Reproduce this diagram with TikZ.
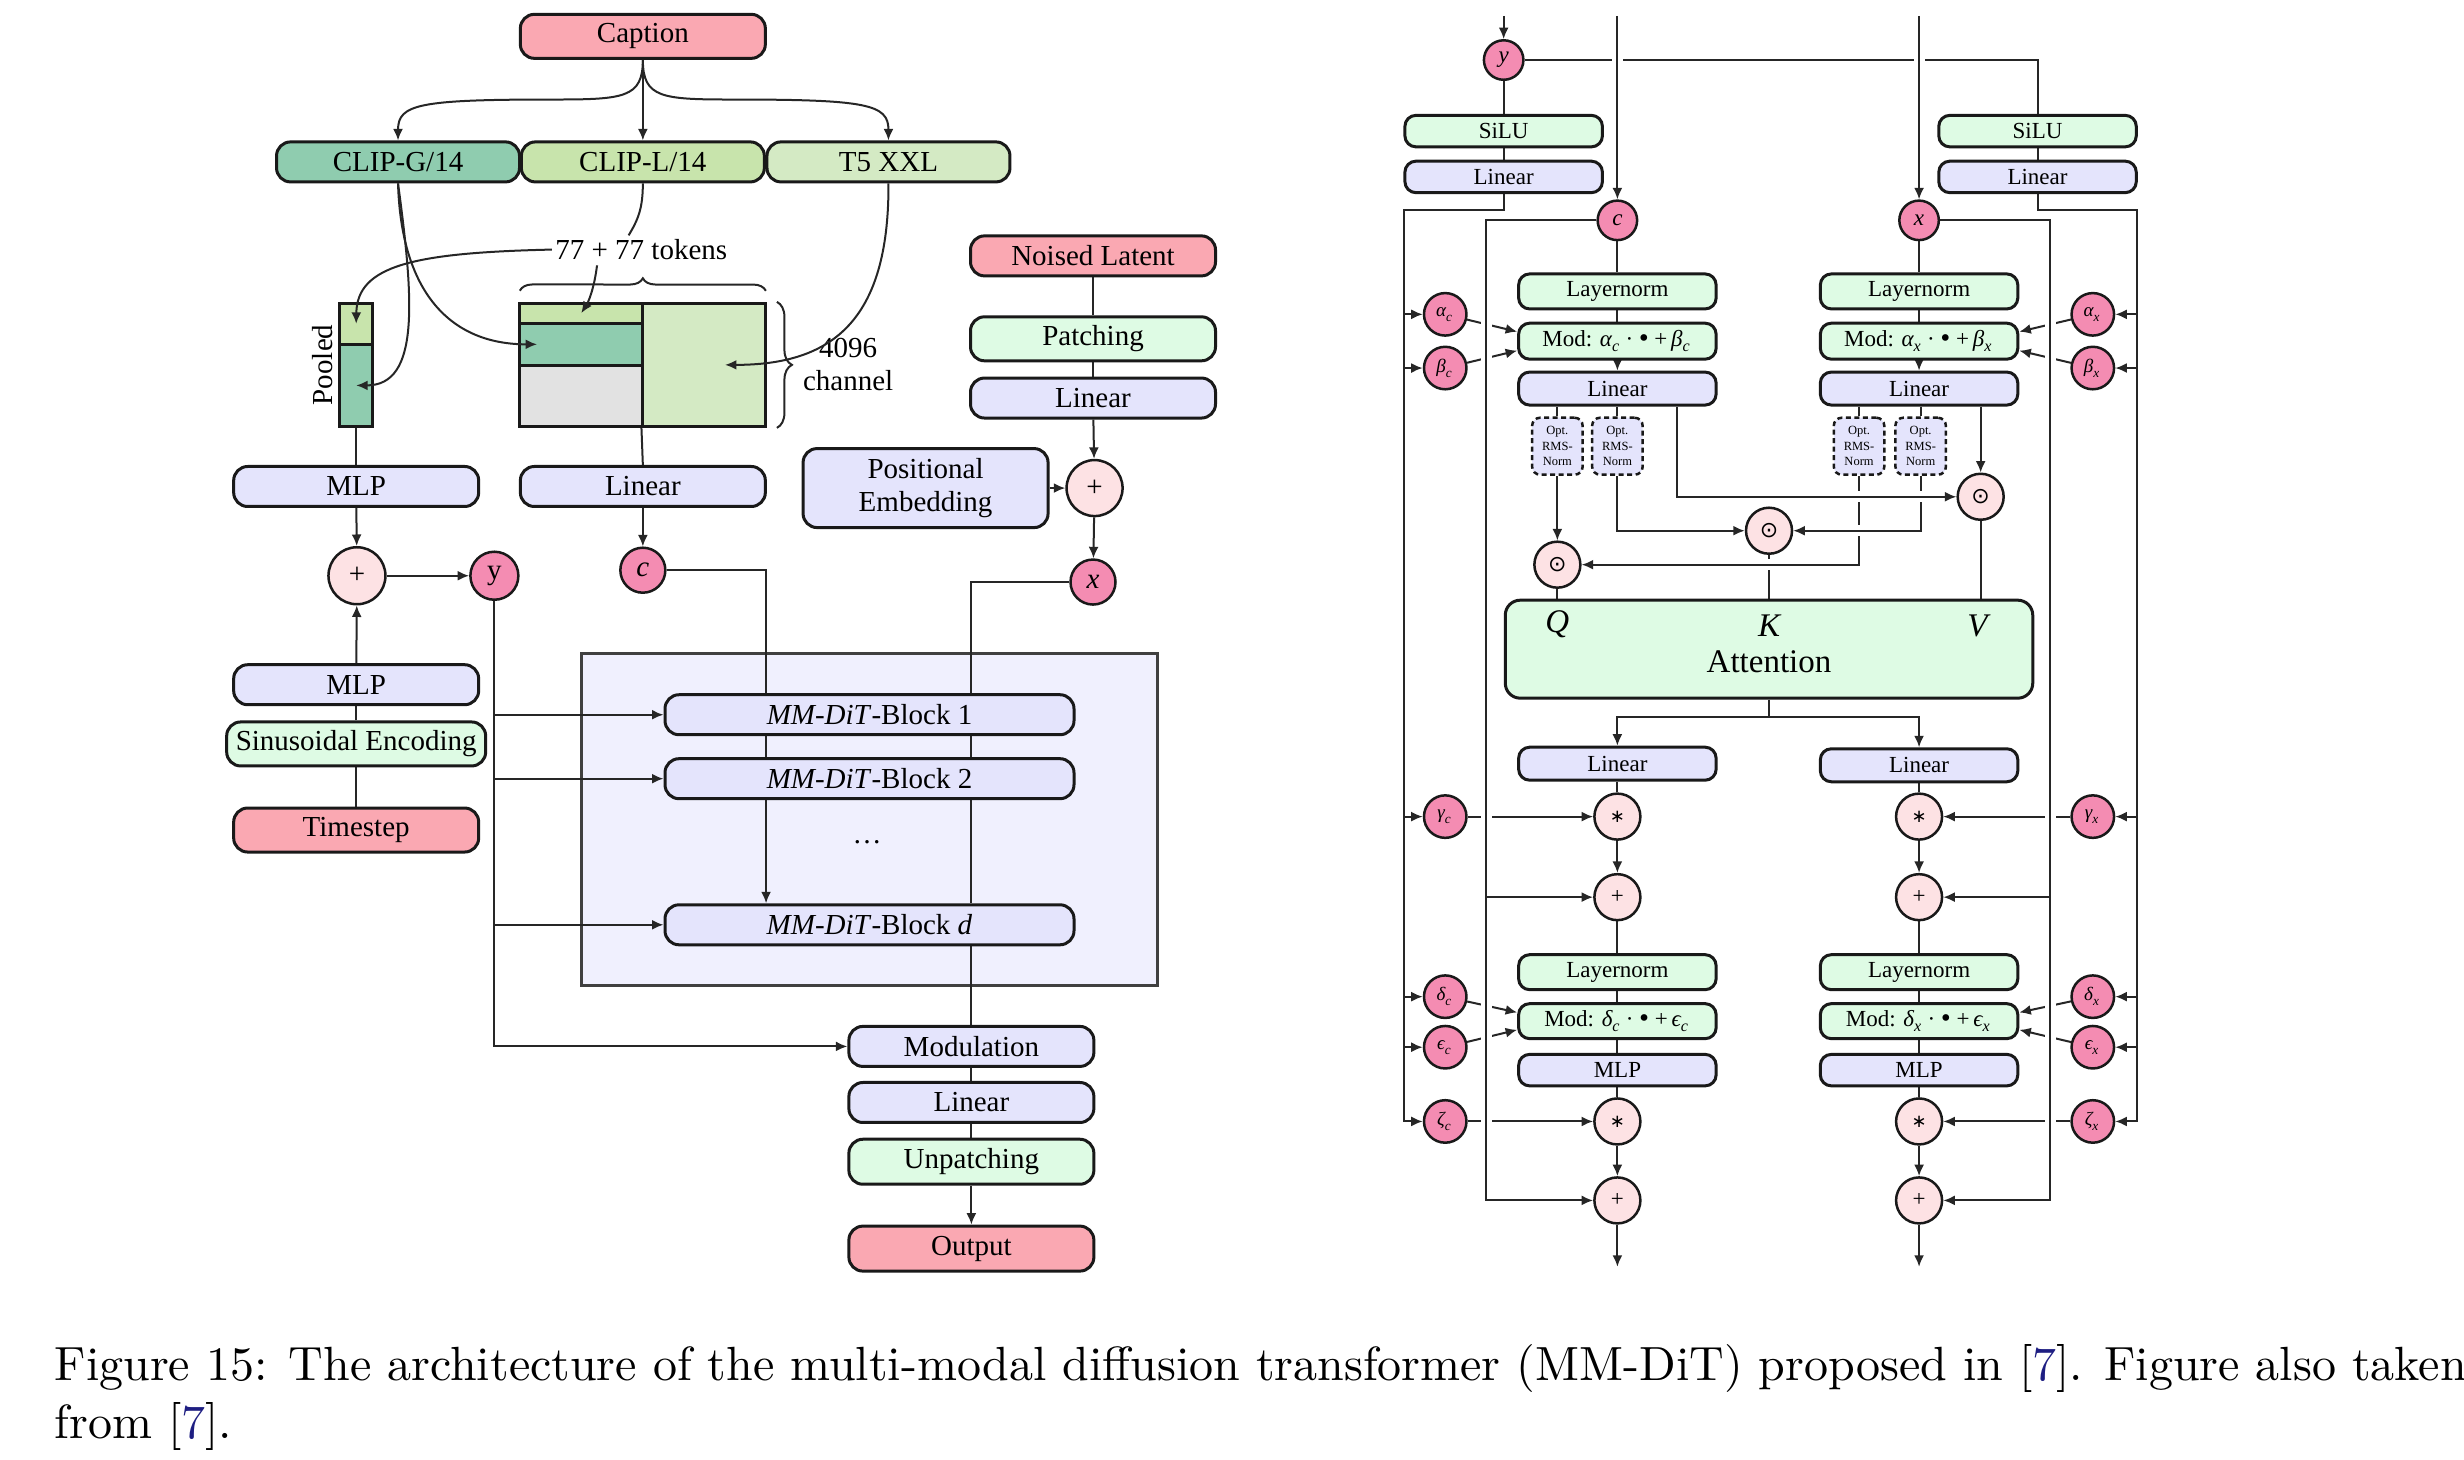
\documentclass[tikz,border=0pt]{standalone}
\usepackage{fontspec}
\usetikzlibrary{arrows.meta,decorations.pathreplacing,calc}
\newfontfamily\dfont{Liberation Serif}
\newfontfamily\symfont{DejaVu Sans}
\newcommand\fL{\dfont\fontsize{5.8}{6.6}\selectfont}
\newcommand\fR{\dfont\fontsize{4.6}{5.2}\selectfont}
\newcommand\fA{\dfont\fontsize{6.6}{7.5}\selectfont}
\newcommand\fT{\dfont\fontsize{2.5}{3.1}\selectfont}
\newcommand\fG{\dfont\fontsize{3.8}{4}\selectfont}
\newcommand\fC{\fontsize{9.6}{11.7}\selectfont}
\newcommand\gsub[2]{{\itshape #1}\textsubscript{\itshape #2}}
\newcommand\modtxt[3]{Mod: \gsub{#1}{#3}\,·\,{\symfont •}\,+\,\gsub{#2}{#3}}
\definecolor{cpink}{RGB}{250,168,178}
\definecolor{cmag}{RGB}{244,140,178}
\definecolor{clpink}{RGB}{253,226,228}
\definecolor{cmint}{RGB}{222,251,228}
\definecolor{clav}{RGB}{228,228,252}
\definecolor{cclipg}{RGB}{143,204,175}
\definecolor{cclipl}{RGB}{200,228,172}
\definecolor{ct5}{RGB}{212,234,196}
\definecolor{cgray}{RGB}{226,226,226}
\definecolor{cbig}{RGB}{240,240,254}
\definecolor{clink}{RGB}{30,30,130}
\pgfdeclarelayer{back}\pgfdeclarelayer{bg}\pgfsetlayers{back,bg,main}
\begin{document}
\begin{tikzpicture}[x=0.3159pt,y=-0.3159pt,
 box/.style={draw=black!90,line width=0.6pt,rounded corners=2.8pt,inner sep=0.5pt,align=center},
 lb/.style={box,font=\fL,minimum width=49pt,minimum height=8pt},
 rb/.style={box,font=\fR,minimum width=39.5pt,minimum height=6.6pt,rounded corners=2.2pt},
 rmsbox/.style={box,font=\fT,dash pattern=on 1pt off 0.7pt,fill=clav,minimum width=10.1pt,minimum height=11.4pt,rounded corners=1.6pt,line width=0.5pt,inner sep=0pt},
 circ/.style={circle,draw=black!90,line width=0.5pt,inner sep=0pt},
 dc/.style={circ,fill=cmag},
 lc/.style={circ,fill=clpink},
 cell/.style={rectangle,draw=black!90,line width=0.6pt,inner sep=0pt},
 ln/.style={line width=0.4pt,draw=black!85},
 ar/.style={ln,-{Latex[length=2.3pt,width=2pt]}},
 wgap/.style={preaction={draw=white,line width=2.2pt,-}},
]
\useasboundingbox (0,0) rectangle (1560,924.3);

% ---------------- left part ----------------
\node[lb,fill=cpink,minimum height=8.8pt] (cap) at (407,23) {Caption};
\node[lb,fill=cclipg,minimum width=48.6pt] (clipg) at (252,102.5) {CLIP-G/14};
\node[lb,fill=cclipl,minimum width=48.6pt] (clipl) at (407,102.5) {CLIP-L/14};
\node[lb,fill=ct5,minimum width=48.6pt] (t5) at (562.5,102.5) {T5 XXL};
\node[font=\fL,inner sep=0.5pt] (tok) at (406,158) {77 + 77 tokens};

\node[cell,fill=cclipl,minimum width=6.6pt,minimum height=8.2pt] (pool1) at (225.5,205) {};
\node[cell,fill=cclipg,minimum width=6.6pt,minimum height=16.4pt] (pool2) at (225.5,244) {};
\node[cell,fill=cclipl,minimum width=24.6pt,minimum height=3.95pt] (m1) at (368,198.25) {};
\node[cell,fill=cclipg,minimum width=24.6pt,minimum height=8.5pt] (m2) at (368,218) {};
\node[cell,fill=cgray,minimum width=24.6pt,minimum height=12.2pt] (m3) at (368,250.75) {};
\node[cell,fill=ct5,minimum width=24.6pt,minimum height=24.6pt] (m4) at (446,231) {};
\node[font=\fL,rotate=90] (plab) at (204,231) {Pooled};
\node[font=\fL,align=center,inner sep=0pt] (chl) at (537,231) {4096\\channel};

\node[lb,fill=clav] (mlp1) at (225.5,308) {MLP};
\node[lb,fill=clav] (lin1) at (407,308) {Linear};
\node[lb,fill=cpink] (noised) at (692,162) {Noised Latent};
\node[lb,fill=cmint,minimum height=8.8pt] (patch) at (692,214.5) {Patching};
\node[lb,fill=clav] (lin2) at (692,252) {Linear};
\node[lb,fill=clav,minimum height=15.8pt] (posemb) at (586,309) {Positional\\Embedding};
\node[lc,minimum size=11.2pt,font=\fL] (plusR) at (693,309) {+};
\node[dc,minimum size=9pt,font=\fL] (xcirc) at (692,368.5) {\itshape x};
\node[lc,minimum size=11.4pt,font=\fL] (plusL) at (226,364.5) {+};
\node[dc,minimum size=9.6pt,font=\fL] (ycirc) at (313,364.5) {y};
\node[dc,minimum size=9pt,font=\fL] (ccirc) at (407,361) {\itshape c};
\node[lb,fill=clav] (mlp2) at (225.5,433.5) {MLP};
\node[lb,fill=cmint,minimum width=51.8pt,minimum height=8.8pt] (sinus) at (225.5,471) {Sinusoidal Encoding};
\node[lb,fill=cpink,minimum height=8.8pt] (tstep) at (225.5,525.5) {Timestep};

\begin{pgfonlayer}{back}
\node[draw=black!75,line width=0.6pt,fill=cbig,minimum width=115.3pt,minimum height=66.5pt,inner sep=0pt] (stack) at (550.5,518.75) {};
\end{pgfonlayer}
\node[lb,fill=clav,minimum width=81.8pt] (blk1) at (550.5,452.5) {\textit{MM-DiT}-Block 1};
\node[lb,fill=clav,minimum width=81.8pt] (blk2) at (550.5,493) {\textit{MM-DiT}-Block 2};
\node[font=\fL] (dots) at (549,533) {\ldots};
\node[lb,fill=clav,minimum width=81.8pt] (blkd) at (550.5,585.5) {\textit{MM-DiT}-Block \textit{d}};
\node[lb,fill=clav] (modu) at (615,662.5) {Modulation};
\node[lb,fill=clav] (lin3) at (615,698) {Linear};
\node[lb,fill=cmint,minimum height=9pt] (unpatch) at (615,735.5) {Unpatching};
\node[lb,fill=cpink,minimum height=9pt] (outp) at (615,790.5) {Output};

\coordinate (cpath) at (485,0);
\coordinate (xpath) at (615,0);

% connectors into the token matrix (on top of the cells)
\draw[ar] (cap.south) .. controls (407,62) and (395,63) .. (350,63) .. controls (265,63) and (252,66) .. (clipg.north);
\draw[ar] (cap.south) .. controls (407,62) and (419,63) .. (464,63) .. controls (549,63) and (562.5,66) .. (t5.north);
\draw[ar] (cap) -- (clipl);
\draw[ln] (clipl.south) .. controls (407,132) and (404,139) .. (398,149);
\draw[ar] (tok.west) .. controls (262,160) and (226,168) .. (pool1.center);
\draw[ar] (378,168) .. controls (376,184) and (372,192) .. (m1.center);
\draw[ar] (clipg.south) .. controls (254,185) and (285,218) .. ($(m2.center)+(-28,0)$);
\draw[ar] (clipg.south) .. controls (262,190) and (266,244) .. (pool2.center);
\draw[ar] (t5.south) .. controls (563,205) and (525,231) .. ($(m4.center)+(13,0)$);
\draw[ln,decorate,decoration={brace,amplitude=2.5pt}] ($(m1.north west)+(1,-7)$) -- ($(m4.north east)+(-1,-7)$);
\draw[ln,decorate,decoration={brace,amplitude=3pt}] ($(m4.north east)+(6,0)$) -- ($(m4.south east)+(6,0)$);

\begin{pgfonlayer}{bg}
\draw[ln] (pool2.south) -- (mlp1.north);
\draw[ln] (m4.south west) -- (lin1.north);
\draw[ar] (mlp1) -- (plusL);
\draw[ar] (plusL) -- (ycirc);
\draw[ar] (mlp2) -- (plusL);
\draw[ln] (tstep) -- (sinus);
\draw[ln] (sinus) -- (mlp2);
\draw[ar] (lin1) -- (ccirc);
\draw[ln] (noised) -- (patch);
\draw[ln] (patch) -- (lin2);
\draw[ar] (lin2) -- (plusR);
\draw[ar] (posemb) -- (plusR);
\draw[ar] (plusR) -- (xcirc);
\draw[ln] (ccirc.east) -| (blk1.north -| cpath);
\draw[ln] (blk1.south -| cpath) -- (blk2.north -| cpath);
\draw[ar] (blk2.south -| cpath) -- (blkd.north -| cpath);
\draw[ln] (xcirc.west) -| (blk1.north -| xpath);
\draw[ln] (blk1.south -| xpath) -- (blk2.north -| xpath);
\draw[ln] (blk2.south -| xpath) -- (blkd.north -| xpath);
\draw[ln] (blkd.south -| xpath) -- (modu.north);
\draw[ln] (modu) -- (lin3);
\draw[ln] (lin3) -- (unpatch);
\draw[ar] (unpatch) -- (outp);
\draw[ar] (ycirc.south) |- (modu.west);
\draw[ar] (ycirc.south |- blk1.west) -- (blk1.west);
\draw[ar] (ycirc.south |- blk2.west) -- (blk2.west);
\draw[ar] (ycirc.south |- blkd.west) -- (blkd.west);
\end{pgfonlayer}

% ---------------- right part ----------------
\node[dc,minimum size=7.9pt,font=\fR] (ycR) at (952,38) {\itshape y};
\node[rb,fill=cmint,minimum height=6.3pt] (siluL) at (952,83) {SiLU};
\node[rb,fill=clav,minimum height=6.3pt] (linL) at (952,112) {Linear};
\node[rb,fill=cmint,minimum height=6.3pt] (siluR) at (1290,83) {SiLU};
\node[rb,fill=clav,minimum height=6.3pt] (linR) at (1290,112) {Linear};
\node[dc,minimum size=7.9pt,font=\fR] (ccR) at (1024,139.5) {\itshape c};
\node[dc,minimum size=7.9pt,font=\fR] (xcR) at (1215,139.5) {\itshape x};

\node[rb,fill=cmint,minimum height=7pt] (lnC1) at (1024,184.5) {Layernorm};
\node[rb,fill=cmint,minimum height=7.2pt] (modC1) at (1024,216) {\modtxt{α}{β}{c}};
\node[rb,fill=clav] (linC1) at (1024,246) {Linear};
\node[rb,fill=cmint,minimum height=7pt] (lnX1) at (1215,184.5) {Layernorm};
\node[rb,fill=cmint,minimum height=7.2pt] (modX1) at (1215,216) {\modtxt{α}{β}{x}};
\node[rb,fill=clav] (linX1) at (1215,246) {Linear};

\node[rmsbox] (rms1) at (986,282.5) {Opt.\\RMS-\\Norm};
\node[rmsbox] (rms2) at (1024,282.5) {Opt.\\RMS-\\Norm};
\node[rmsbox] (rms3) at (1177,282.5) {Opt.\\RMS-\\Norm};
\node[rmsbox] (rms4) at (1216,282.5) {Opt.\\RMS-\\Norm};

\node[lc,minimum size=9.2pt,font=\symfont\fontsize{4.4}{5}\selectfont] (odR) at (1254,314.5) {⊙};
\node[lc,minimum size=9.2pt,font=\symfont\fontsize{4.4}{5}\selectfont] (odM) at (1120,336) {⊙};
\node[lc,minimum size=9.2pt,font=\symfont\fontsize{4.4}{5}\selectfont] (odL) at (986,357.5) {⊙};

\node[box,fill=cmint,minimum width=105.5pt,minimum height=19.6pt,rounded corners=3pt] (att) at (1120,411) {};
\node[font=\fA] (attl) at (1120,419) {Attention};
\node[font=\fA\itshape] (Q) at (986,395) {Q};
\node[font=\fA\itshape] (K) at (1120,396) {K};
\node[font=\fA\itshape] (V) at (1252,396) {V};

\node[rb,fill=clav] (linC2) at (1024,483.5) {Linear};
\node[rb,fill=clav] (linX2) at (1215,484.5) {Linear};
\node[lc,minimum size=9.2pt,font=\symfont\fontsize{3.6}{4}\selectfont] (stC) at (1024,517) {∗};
\node[lc,minimum size=9.2pt,font=\symfont\fontsize{3.6}{4}\selectfont] (stX) at (1215,517) {∗};
\node[lc,minimum size=9.2pt,font=\fR] (plC) at (1024,568) {+};
\node[lc,minimum size=9.2pt,font=\fR] (plX) at (1215,568) {+};
\node[rb,fill=cmint,minimum height=7pt] (lnC2) at (1024,615.5) {Layernorm};
\node[rb,fill=cmint,minimum height=7pt] (modC2) at (1024,646.5) {\modtxt{δ}{ϵ}{c}};
\node[rb,fill=clav,minimum height=6.3pt] (mlpC) at (1024,677.5) {MLP};
\node[rb,fill=cmint,minimum height=7pt] (lnX2) at (1215,615.5) {Layernorm};
\node[rb,fill=cmint,minimum height=7pt] (modX2) at (1215,646.5) {\modtxt{δ}{ϵ}{x}};
\node[rb,fill=clav,minimum height=6.3pt] (mlpX) at (1215,677.5) {MLP};
\node[lc,minimum size=9.2pt,font=\symfont\fontsize{3.6}{4}\selectfont] (stC2) at (1024,710) {∗};
\node[lc,minimum size=9.2pt,font=\symfont\fontsize{3.6}{4}\selectfont] (stX2) at (1215,710) {∗};
\node[lc,minimum size=9.2pt,font=\fR] (plC2) at (1024,760) {+};
\node[lc,minimum size=9.2pt,font=\fR] (plX2) at (1215,760) {+};

\node[dc,minimum size=8.5pt,font=\fG] (aC) at (915,199) {\gsub{α}{c}};
\node[dc,minimum size=8.5pt,font=\fG] (bC) at (915,233) {\gsub{β}{c}};
\node[dc,minimum size=8.5pt,font=\fG] (gC) at (915,517) {\gsub{γ}{c}};
\node[dc,minimum size=8.5pt,font=\fG] (dC) at (915,631) {\gsub{δ}{c}};
\node[dc,minimum size=8.5pt,font=\fG] (eC) at (915,663) {\gsub{ϵ}{c}};
\node[dc,minimum size=8.5pt,font=\fG] (zC) at (915,710) {\gsub{ζ}{c}};
\node[dc,minimum size=8.5pt,font=\fG] (aX) at (1325,199) {\gsub{α}{x}};
\node[dc,minimum size=8.5pt,font=\fG] (bX) at (1325,233) {\gsub{β}{x}};
\node[dc,minimum size=8.5pt,font=\fG] (gX) at (1325,517) {\gsub{γ}{x}};
\node[dc,minimum size=8.5pt,font=\fG] (dX) at (1325,631) {\gsub{δ}{x}};
\node[dc,minimum size=8.5pt,font=\fG] (eX) at (1325,663) {\gsub{ϵ}{x}};
\node[dc,minimum size=8.5pt,font=\fG] (zX) at (1325,710) {\gsub{ζ}{x}};

\coordinate (topY) at (952,10);
\coordinate (topC) at (1024,10);
\coordinate (topX) at (1215,10);
\coordinate (oL) at (889,133);
\coordinate (oR) at (1353,133);
\coordinate (rL) at (941,0);
\coordinate (rR) at (1298,0);
\coordinate (k1) at (1062,0);
\coordinate (v1) at (1254,0);
\coordinate (sp) at (0,454);
\coordinate (endC) at (1024,802);
\coordinate (endX) at (1215,802);

\begin{pgfonlayer}{bg}
% top
\draw[ln] (ycR) -- (siluL);
\draw[ln] (ycR.east) -| (siluR.north);
\draw[ar] (topY) -- (ycR);
\draw[ar,wgap] (topC) -- (ccR);
\draw[ar,wgap] (topX) -- (xcR);
\draw[ln] (siluL) -- (linL);
\draw[ln] (siluR) -- (linR);
% outer modulation lines
\draw[ar] (linL.south) |- (oL) -- (oL |- zC) -- (zC);
\foreach \n in {aC,bC,gC,dC,eC} \draw[ar] (oL |- \n) -- (\n);
\draw[ar] (linR.south) |- (oR) -- (oR |- zX) -- (zX);
\foreach \n in {aX,bX,gX,dX,eX} \draw[ar] (oR |- \n) -- (\n);
% modulation parameters
\draw[ar] (gC) -- (stC);
\draw[ar] (zC) -- (stC2);
\draw[ar] (gX) -- (stX);
\draw[ar] (zX) -- (stX2);
\draw[ar] (aC) -- ($(modC1.west)+(0,-6)$);
\draw[ar] (bC) -- ($(modC1.west)+(0,6)$);
\draw[ar] (dC) -- ($(modC2.west)+(0,-5.5)$);
\draw[ar] (eC) -- ($(modC2.west)+(0,5.5)$);
\draw[ar] (aX) -- ($(modX1.east)+(0,-6)$);
\draw[ar] (bX) -- ($(modX1.east)+(0,6)$);
\draw[ar] (dX) -- ($(modX2.east)+(0,-5.5)$);
\draw[ar] (eX) -- ($(modX2.east)+(0,5.5)$);
% residual lines
\draw[ar,wgap] (ccR.west) -| (rL |- plC2) -- (plC2);
\draw[ar] (rL |- plC) -- (plC);
\draw[ar,wgap] (xcR.east) -| (rR |- plX2) -- (plX2);
\draw[ar] (rR |- plX) -- (plX);
% streams
\draw[ln] (ccR) -- (lnC1);
\draw[ln] (lnC1) -- (modC1);
\draw[ar] (modC1) -- (linC1);
\draw[ln] (xcR) -- (lnX1);
\draw[ln] (lnX1) -- (modX1);
\draw[ar] (modX1) -- (linX1);
\draw[ln] (linC1.south -| rms1) -- (rms1);
\draw[ln] (linC1.south -| rms2) -- (rms2);
\draw[ln] (linX1.south -| rms3) -- (rms3);
\draw[ln] (linX1.south -| rms4) -- (rms4);
\draw[ar] (rms1) -- (odL);
\draw[ar] (rms2.south) |- (odM.west);
\draw[ar] (linX1.south -| v1) -- (odR);
\draw[ln] (odL) -- (odL |- att.north);
\draw[ln] (odM) -- (odM |- att.north);
\draw[ln] (odR) -- (odR |- att.north);
\draw[ar,wgap] (rms3.south) |- (odL.east);
\draw[ar,wgap] (rms4.south) |- (odM.east);
\draw[ar,wgap] (linC1.south -| k1) |- (odR.west);
% after attention
\draw[ar] (att.south) -- (att.south |- sp) -| (linC2.north);
\draw[ar] (att.south |- sp) -| (linX2.north);
\draw[ln] (linC2) -- (stC);
\draw[ar] (stC) -- (plC);
\draw[ln] (plC) -- (lnC2);
\draw[ln] (lnC2) -- (modC2);
\draw[ln] (modC2) -- (mlpC);
\draw[ln] (mlpC) -- (stC2);
\draw[ar] (stC2) -- (plC2);
\draw[ar] (plC2) -- (endC);
\draw[ln] (linX2) -- (stX);
\draw[ar] (stX) -- (plX);
\draw[ln] (plX) -- (lnX2);
\draw[ln] (lnX2) -- (modX2);
\draw[ln] (modX2) -- (mlpX);
\draw[ln] (mlpX) -- (stX2);
\draw[ar] (stX2) -- (plX2);
\draw[ar] (plX2) -- (endX);
\end{pgfonlayer}

% ---------------- caption ----------------
\node[anchor=base west,font=\fC,inner sep=0pt] (capl1) at (34,874) {Figure 15: The architecture of the multi-modal diffusion transformer (MM-DiT) proposed in [\textcolor{clink}{7}]. Figure also taken};
\node[anchor=base west,font=\fC,inner sep=0pt] (capl2) at (34,911) {from [\textcolor{clink}{7}].};
\end{tikzpicture}
\end{document}
